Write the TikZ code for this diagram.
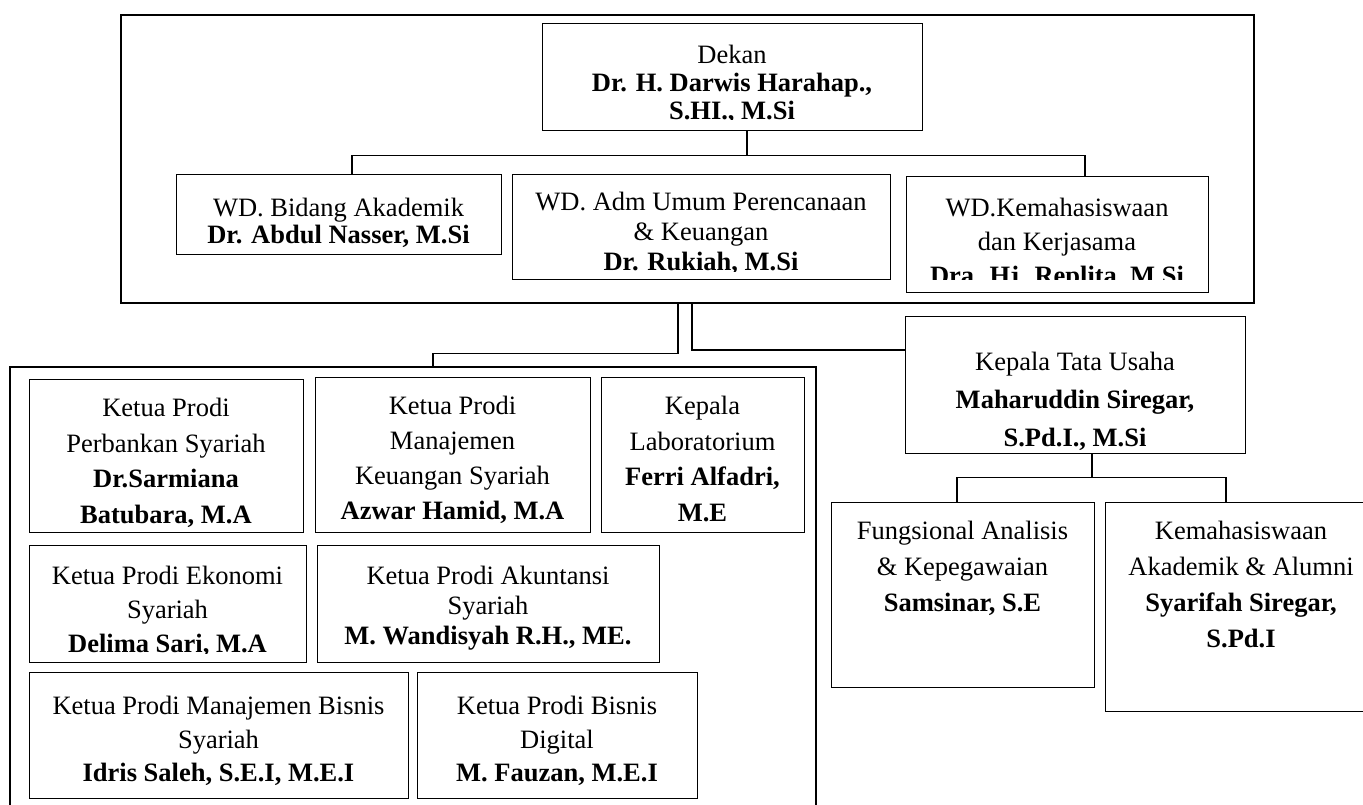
\documentclass[tikz,border=0pt]{standalone}
\usepackage{fontspec}
\setmainfont{Liberation Serif}
\begin{document}
\begin{tikzpicture}[x=1pt,y=-1pt,
  frame/.style={draw, line width=1.6pt, inner sep=0pt, anchor=north west},
  box/.style={draw, line width=1.4pt, inner sep=0pt, anchor=north west},
  txt/.style={inner sep=0pt, align=center, anchor=north, font=\fontsize{26.5}{#1}\selectfont},
  txt/.default=30,
  conn/.style={line width=1.6pt}]
\useasboundingbox (0,0) rectangle (1363,805);
\clip (0,0) rectangle (1363,805);

% frames
\node[frame, minimum width=1133pt, minimum height=288pt] (topframe) at (120,14) {};
\node[frame, minimum width=806pt, minimum height=450pt] (lowframe) at (9,366) {};

% top level boxes
\node[box, minimum width=380pt, minimum height=107pt] (dekan) at (542,23) {};
\node[box, minimum width=325pt, minimum height=80pt] (wd1) at (176,174) {};
\node[box, minimum width=378pt, minimum height=105pt] (wd2) at (512,174) {};
\node[box, minimum width=302pt, minimum height=116pt] (wd3) at (906,176) {};

% right side
\node[box, minimum width=340pt, minimum height=137pt] (ktu) at (905,316) {};
\node[box, minimum width=263pt, minimum height=185pt] (fung) at (831,502) {};
\node[box, minimum width=272pt, minimum height=209pt] (kema) at (1105,502) {};

% prodi boxes
\node[box, minimum width=274pt, minimum height=153pt] (perb) at (29,379) {};
\node[box, minimum width=275pt, minimum height=155pt] (manaj) at (315,377) {};
\node[box, minimum width=203pt, minimum height=155pt] (lab) at (601,377) {};
\node[box, minimum width=277pt, minimum height=117pt] (ekon) at (29,545) {};
\node[box, minimum width=342pt, minimum height=117pt] (akun) at (317,545) {};
\node[box, minimum width=379pt, minimum height=126pt] (mbis) at (29,672) {};
\node[box, minimum width=280pt, minimum height=126pt] (bdig) at (417,672) {};

% texts
\begin{scope}
\clip (542,23) rectangle (922,120);
\node[txt=28] (dekant) at (732,45) {Dekan\\\textbf{Dr. H. Darwis Harahap.,}\\\textbf{S.HI., M.Si}};
\end{scope}
\node[txt=27] (wd1t) at (338.5,198) {WD. Bidang Akademik\\\textbf{Dr. Abdul Nasser, M.Si}};
\begin{scope}
\clip (512,174) rectangle (890,271);
\node[txt=30] (wd2t) at (701,192) {WD. Adm Umum Perencanaan\\\& Keuangan\\\textbf{Dr. Rukiah, M.Si}};
\end{scope}
\begin{scope}
\clip (906,176) rectangle (1208,279);
\node[txt=34] (wd3t) at (1057,198) {WD.Kemahasiswaan\\dan Kerjasama\\\textbf{Dra. Hj. Replita, M.Si}};
\end{scope}
\node[txt=38] (ktut) at (1075,352) {Kepala Tata Usaha\\\textbf{Maharuddin Siregar,}\\\textbf{S.Pd.I., M.Si}};
\node[txt=36] (fungt) at (962.5,521) {Fungsional Analisis\\\& Kepegawaian\\\textbf{Samsinar, S.E}};
\node[txt=36] (kemat) at (1241,521) {Kemahasiswaan\\Akademik \& Alumni\\\textbf{Syarifah Siregar,}\\\textbf{S.Pd.I}};
\node[txt=35.5] (perbt) at (166,398) {Ketua Prodi\\Perbankan Syariah\\\textbf{Dr.Sarmiana}\\\textbf{Batubara, M.A}};
\node[txt=35] (manajt) at (452.5,396) {Ketua Prodi\\Manajemen\\Keuangan Syariah\\\textbf{Azwar Hamid, M.A}};
\node[txt=35.5] (labt) at (702.5,396) {Kepala\\Laboratorium\\\textbf{Ferri Alfadri,}\\\textbf{M.E}};
\begin{scope}
\clip (29,545) rectangle (306,653);
\node[txt=34] (ekont) at (167.5,566) {Ketua Prodi Ekonomi\\Syariah\\\textbf{Delima Sari, M.A}};
\end{scope}
\node[txt=30] (akunt) at (488,566) {Ketua Prodi Akuntansi\\Syariah\\\textbf{M. Wandisyah R.H., ME.}};
\node[txt=33.5] (mbist) at (218.5,696) {Ketua Prodi Manajemen Bisnis\\Syariah\\\textbf{Idris Saleh, S.E.I, M.E.I}};
\node[txt=33.5] (bdigt) at (557,696) {Ketua Prodi Bisnis\\Digital\\\textbf{M. Fauzan, M.E.I}};

% connectors
\draw[conn] ([xshift=14pt]dekan.south) -- ++(0,24) -| ([xshift=12.5pt]wd1.north);
\draw[conn] ([xshift=14pt]dekan.south) -- ++(0,24) -| ([xshift=27pt]wd3.north);
\draw[conn] ([xshift=-9.5pt]topframe.south) -- ++(0,50) -| ([xshift=20pt]lowframe.north);
\draw[conn] ([xshift=4.5pt]topframe.south) |- ([yshift=35.5pt]ktu.west);
\draw[conn] ([xshift=16pt]ktu.south) -- ++(0,23) -| ([xshift=-6.5pt]fung.north);
\draw[conn] ([xshift=16pt]ktu.south) -- ++(0,23) -| ([xshift=-16pt]kema.north);
\end{tikzpicture}
\end{document}
